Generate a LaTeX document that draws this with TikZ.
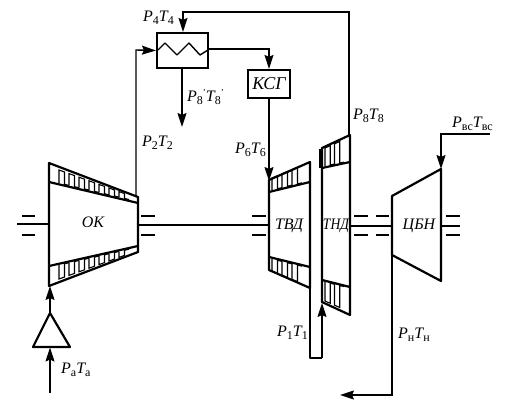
\documentclass[tikz,border=0pt]{standalone}
\usepackage{fontspec}
\setmainfont{Liberation Serif}
\usetikzlibrary{arrows.meta,calc}
\tikzset{
  flowline/.style={line width=1.4pt,-{Stealth[length=14pt,width=9pt,inset=2pt]}},
  pipeline/.style={line width=1.4pt,line join=round},
  bodyline/.style={line width=2.2pt,line join=round},
  shaftline/.style={line width=1.8pt},
  sealline/.style={line width=1.2pt},
  bladeline/.style={line width=1.1pt},
  boxnode/.style={draw,line width=2.2pt,inner sep=0pt},
  labnode/.style={inner sep=0pt,font=\fontsize{16}{16}\selectfont\itshape},
  machname/.style={inner sep=0pt,font=\fontsize{16}{16}\selectfont\itshape},
}
\newcommand{\sbx}[1]{\raisebox{-3.5pt}{\upshape\fontsize{12}{12}\selectfont #1}}
\newcommand{\prm}{\raisebox{6pt}{\upshape\fontsize{9}{9}\selectfont '}}
\newcommand{\lb}[4]{#1\sbx{#2}#3\sbx{#4}}
\newcommand{\lbp}[4]{#1\sbx{#2}\prm #3\sbx{#4}\prm}
% teeth: x0, width of one tooth step, count, outer y0, outer slope, inner y0, inner slope
\newcommand{\teeth}[7]{%
  \foreach \i in {1,...,#3}{%
    \pgfmathsetmacro{\xa}{#1+(\i-1)*#2}%
    \pgfmathsetmacro{\xb}{\xa+0.55*#2}%
    \pgfmathsetmacro{\xc}{\xa+#2}%
    \pgfmathsetmacro{\ya}{#6+#7*(\xa-#1)}%
    \pgfmathsetmacro{\yb}{#4+#5*(\xa-#1)}%
    \pgfmathsetmacro{\yc}{#4+#5*(\xb-#1)}%
    \pgfmathsetmacro{\yd}{#6+#7*(\xb-#1)}%
    \pgfmathsetmacro{\ye}{#6+#7*(\xc-#1)}%
    \draw[bladeline] (\xa,\ya)--(\xa,\yb)--(\xb,\yc)--(\xb,\yd)--(\xc,\ye);
  }}
\begin{document}
\begin{tikzpicture}[x=1pt,y=-1pt]
\useasboundingbox (0,0) rectangle (512,415);
% heat exchanger and combustor
\node[boxnode,minimum width=51pt,minimum height=35pt] (hx) at (182.5,50.5) {};
\node[boxnode,minimum width=42pt,minimum height=28pt,font=\fontsize{18}{18}\selectfont\itshape] (ksg) at (269,84) {КСГ};
% machine outlines
\draw[bodyline] (49,163)--(138,197)--(138,252)--(49,286)--cycle;
\draw[bodyline] (49,182)--(138,203);
\draw[bodyline] (49,266)--(138,246);
\draw[bodyline] (269,180)--(310,162)--(310,288)--(269,270)--cycle;
\draw[bodyline] (269,192)--(310,182);
\draw[bodyline] (269,257)--(310,267);
\draw[bodyline] (322,148)--(350,135)--(350,315)--(322,302)--cycle;
\draw[bodyline] (322,168)--(350,162);
\draw[bodyline] (322,280)--(350,287);
\draw[line width=1.2pt] (320,149)--(320,168);
\draw[bodyline] (392,196)--(441,169)--(441,281)--(392,255)--cycle;
% blades
\teeth{59}{10}{7}{170}{0.36}{183}{0.236}
\teeth{59}{10}{7}{279}{-0.36}{265}{-0.225}
\teeth{272}{10}{3}{178}{-0.42}{190}{-0.24}
\teeth{272}{10}{3}{271}{0.42}{259}{0.24}
\teeth{325}{9.5}{2}{148}{-0.44}{166}{-0.2}
\teeth{325}{9.5}{2}{301}{0.44}{282}{0.24}
% machine names
\node[machname] (ok) at (93,222) {ОК};
\node[machname] (tvd) at (289,226) {ТВД};
\node[machname] (tnd) at (336,226) {\scalebox{0.85}[1]{ТНД}};
\node[machname] (cbn) at (419,226) {ЦБН};
% inlet triangle
\coordinate (tA) at (50,313);
\coordinate (tB) at (33,347);
\coordinate (tC) at (70,347);
\draw[bodyline] (tA)--(tB)--(tC)--cycle;
% shafts
\coordinate (sL) at (17,224);
\coordinate (okL) at (49,224);
\coordinate (okR) at (138,225);
\coordinate (tvdL) at (269,225);
\coordinate (tndR) at (350,226);
\coordinate (cbnL) at (392,226);
\coordinate (cbnR) at (441,226);
\coordinate (sR) at (460,226);
\draw[shaftline] (sL)--(okL) (okR)--(tvdL);
\draw[line width=2.4pt] (tndR)--(cbnL) (cbnR)--(sR);
% bearings
\foreach \a/\b in {22/35,141/155,252/266,354/368,376/389,446/460}{
  \draw[sealline] (\a,216)--(\b,216) (\a,235)--(\b,235);
}
% flows
\coordinate (in) at (50,393);
\coordinate (okb) at (50,286);
\draw[flowline] (in)--(50,347.5);
\draw[flowline] (tA)--(okb);
\coordinate (okt) at (136,197);
\draw[flowline] (okt)--(136,50)--(hx.west);
\coordinate (p8a) at (349,135);
\draw[flowline] (p8a)--(349,12)--(183,12)--(183,0 |- hx.north);
\draw[pipeline] (158,50)--(165,43)--(177,55)--(189,43)--(200,55)--(208,50);
\draw[flowline] (208,49)--(269,49)--(ksg.north);
\draw[flowline] (ksg.south)--(269,181);
\draw[flowline] (182,68)--(182,127);
\coordinate (t1) at (322,303);
\draw[pipeline] (310,288)--(310,358)--(322,358);
\draw[flowline] (322,358)--(t1);
\coordinate (c1) at (392,255);
\draw[flowline] (c1)--(392,395)--(340,395);
\coordinate (vs) at (490,134);
\draw[flowline] (vs)--(441,134)--(441,169);
% labels
\node[labnode,anchor=west] (l4) at (143,18) {\lb{P}{4}{T}{4}};
\node[labnode,anchor=west] (l2) at (142,143) {\lb{P}{2}{T}{2}};
\node[labnode,anchor=west] (l88) at (187,97) {\lbp{P}{8}{T}{8}};
\node[labnode,anchor=west] (l6) at (235,150) {\lb{P}{6}{T}{6}};
\node[labnode,anchor=west] (l8) at (353,116) {\lb{P}{8}{T}{8}};
\node[labnode,anchor=west] (lvs) at (452,124) {\lb{P}{вс}{T}{вс}};
\node[labnode,anchor=east] (l1) at (308,333) {\lb{P}{1}{T}{1}};
\node[labnode,anchor=west] (ln) at (398,335) {\lb{P}{н}{T}{н}};
\node[labnode,anchor=west] (la) at (61,370) {\lb{P}{а}{T}{а}};
\end{tikzpicture}
\end{document}
